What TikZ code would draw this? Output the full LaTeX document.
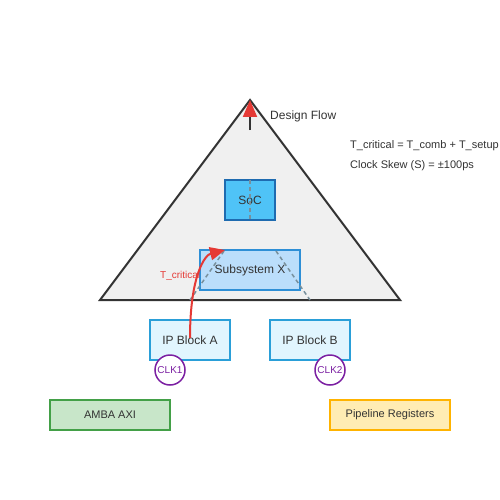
\documentclass[tikz,border=0pt]{standalone}
\usepackage{fontspec}
\setmainfont{Liberation Sans}
\usetikzlibrary{arrows.meta}
\definecolor{txt}{HTML}{333333}
\definecolor{tri}{HTML}{F0F0F0}
\definecolor{redc}{HTML}{E53935}
\definecolor{socf}{HTML}{4FC3F7}
\definecolor{socd}{HTML}{1E6BB0}
\definecolor{subf}{HTML}{BBDEFB}
\definecolor{subd}{HTML}{2E8FD6}
\definecolor{ipf}{HTML}{E1F5FE}
\definecolor{ipd}{HTML}{2A9FD8}
\definecolor{clk}{HTML}{7B1FA2}
\definecolor{ambaf}{HTML}{C8E6C9}
\definecolor{ambad}{HTML}{43A047}
\definecolor{pipef}{HTML}{FFECB3}
\definecolor{piped}{HTML}{FFB300}
\definecolor{dash}{HTML}{78909C}
\tikzset{
  box/.style={draw, line width=1.5pt, inner sep=0pt, text=txt, font=\fontsize{12}{14}\selectfont},
  smallbox/.style={draw, line width=1.5pt, inner sep=0pt, text=txt, font=\fontsize{11}{13}\selectfont},
  clkc/.style={circle, draw=clk, fill=white, line width=1.5pt, minimum size=30pt, inner sep=0pt, text=clk, font=\fontsize{10}{12}\selectfont},
  lbl/.style={text=txt, inner sep=0pt, anchor=west, font=\fontsize{12}{14}\selectfont},
  eqlbl/.style={text=txt, inner sep=0pt, anchor=west, font=\fontsize{11}{13}\selectfont},
  guide/.style={draw=dash, dashed, line width=1.5pt, dash pattern=on 4pt off 3pt}
}
\begin{document}
\begin{tikzpicture}[x=1pt,y=-1pt]
\useasboundingbox (0,0) rectangle (500,500);
\fill[white] (0,0) rectangle (500,500);
% pyramid
\draw[fill=tri, draw=txt, line width=2pt] (100,300) -- (250,100) -- (400,300) -- cycle;
% design flow arrow
\coordinate (dfs) at (250,130);
\coordinate (dfe) at (250,100);
\draw[draw=txt, line width=2pt, -{Triangle[length=17pt,width=14pt,color=redc]}] (dfs) -- (dfe);
\node[lbl] (df) at (270,116) {Design Flow};
% SoC and subsystem
\node[box, fill=socf, draw=socd, minimum width=50pt, minimum height=40pt] (soc) at (250,200) {SoC};
\node[box, fill=subf, draw=subd, minimum width=100pt, minimum height=40pt] (sub) at (250,270) {Subsystem X};
% dashed guides
\coordinate (g1a) at (250,180); \coordinate (g1b) at (250,220);
\coordinate (g2a) at (276,251); \coordinate (g2b) at (310,300);
\coordinate (g3a) at (224,251); \coordinate (g3b) at (190,300);
\draw[guide] (g1a) -- (g1b);
\draw[guide] (g2a) -- (g2b);
\draw[guide] (g3a) -- (g3b);
% IP blocks
\node[box, fill=ipf, draw=ipd, minimum width=80pt, minimum height=40pt] (ipa) at (190,340) {IP Block A};
\node[box, fill=ipf, draw=ipd, minimum width=80pt, minimum height=40pt] (ipb) at (310,340) {IP Block B};
% critical path arrow
\coordinate (cs) at (190,338);
\coordinate (ce) at (225,250);
\draw[redc, line width=2pt, -{Triangle[length=15pt,width=13pt]}] (cs) .. controls (190,275) and (205,255) .. (ce);
\node[text=redc, inner sep=0pt, anchor=west, font=\fontsize{10}{12}\selectfont] (tc) at (160,276) {T\_critical};
% clocks
\node[clkc] (clk1) at (170,370) {CLK1};
\node[clkc] (clk2) at (330,370) {CLK2};
% bottom boxes
\node[smallbox, fill=ambaf, draw=ambad, minimum width=120pt, minimum height=30pt] (amba) at (110,415) {AMBA AXI};
\node[smallbox, fill=pipef, draw=piped, minimum width=120pt, minimum height=30pt] (pipe) at (390,415) {Pipeline Registers};
% equations
\node[eqlbl] (eq1) at (350,146) {T\_critical = T\_comb + T\_setup};
\node[eqlbl] (eq2) at (350,166) {Clock Skew (S) = ±100ps};
\end{tikzpicture}
\end{document}
